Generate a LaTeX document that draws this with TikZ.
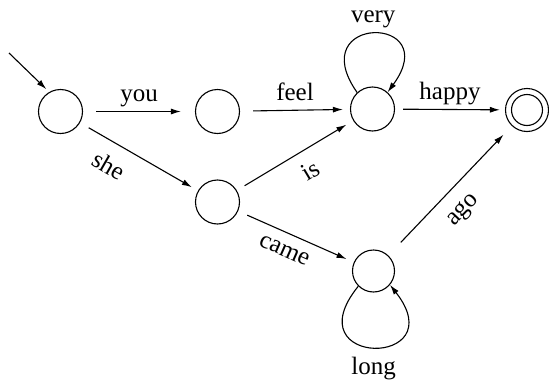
\documentclass[tikz,border=0pt]{standalone}
\usepackage{fontspec}
\setmainfont{Liberation Serif}
\usetikzlibrary{arrows.meta}
\begin{document}
\begin{tikzpicture}[x=1pt,y=-1pt,
  state/.style={circle,draw,line width=1.1pt,minimum size=44pt,inner sep=0pt},
  lab/.style={font=\fontsize{25}{30}\selectfont, text height=17.5pt, text depth=6pt, inner sep=3pt},
  trans/.style={line width=1.1pt,-{Latex[length=10pt,width=6pt]}},
]
\useasboundingbox (0,0) rectangle (549,380);
\node[state] (q0) at (60.5,111.5) {};
\node[state] (q1) at (217.5,111.5) {};
\node[state] (q2) at (372.5,109) {};
\node[state,minimum size=43pt] (f) at (527,110) {};
\draw[line width=1.1pt] (f.center) circle (15.5pt);
\node[state] (q3) at (217.5,202) {};
\node[state,minimum size=42pt] (q4) at (373.5,271) {};
\coordinate (start) at (9,53);

\draw[trans,shorten >=4pt] (start) -- (q0.120);
\draw[trans,shorten <=13pt,shorten >=14pt] (q0) -- node[lab,midway,above] {you} (q1);
\draw[trans,shorten <=13pt,shorten >=7pt] (q1) -- node[lab,midway,above] {feel} (q2);
\draw[trans,shorten <=8pt,shorten >=5pt] (q2) -- node[lab,midway,above] {happy} (f);
\draw[trans,shorten <=10pt,shorten >=7pt] (q0) -- node[lab,pos=0.34,sloped,below=10pt] {she} (q3);
\draw[trans,shorten <=9pt,shorten >=8pt] (q3) -- node[lab,pos=0.54,sloped,below=8pt] {is} (q2);
\draw[trans,shorten <=10pt,shorten >=8pt] (q3) -- node[lab,pos=0.46,sloped,below=2pt] {came} (q4);
\draw[trans,shorten <=18pt,shorten >=12pt] (q4) -- node[lab,pos=0.47,sloped,below=7pt] {ago} (f);
\draw[trans] (q2.133) .. controls (302,14) and (445,14) .. node[lab,pos=0.5,above=2pt] {very} (q2.48);
\draw[trans] (q4.225) .. controls (292,368) and (455,368) .. node[lab,pos=0.5,below=6pt] {long} (q4.320);
\end{tikzpicture}
\end{document}
